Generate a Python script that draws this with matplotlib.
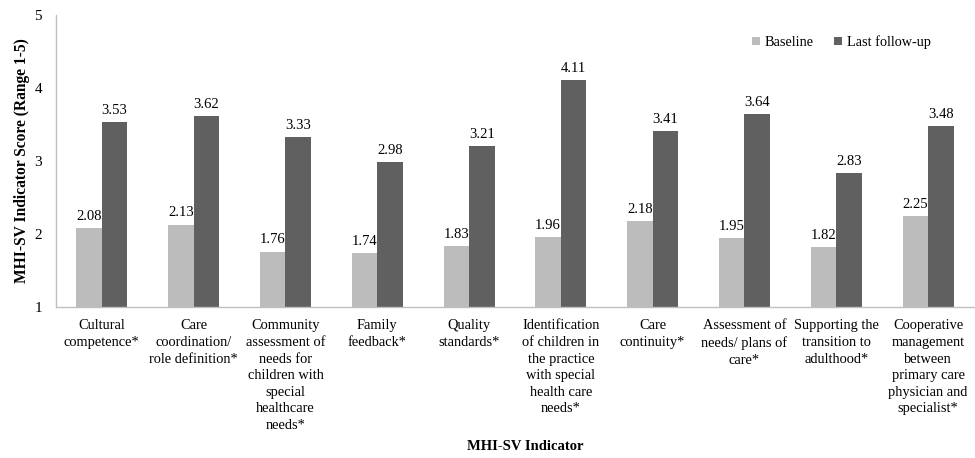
import matplotlib
matplotlib.use("Agg")
import matplotlib.pyplot as plt
import numpy as np

plt.rcParams['font.family'] = ['Liberation Serif', 'DejaVu Serif']

categories = [
    "Cultural\ncompetence*",
    "Care\ncoordination/\nrole definition*",
    "Community\nassessment of\nneeds for\nchildren with\nspecial\nhealthcare\nneeds*",
    "Family\nfeedback*",
    "Quality\nstandards*",
    "Identification\nof children in\nthe practice\nwith special\nhealth care\nneeds*",
    "Care\ncontinuity*",
    "Assessment of\nneeds/ plans of\ncare*",
    "Supporting the\ntransition to\nadulthood*",
    "Cooperative\nmanagement\nbetween\nprimary care\nphysician and\nspecialist*",
]
baseline = [2.08, 2.13, 1.76, 1.74, 1.83, 1.96, 2.18, 1.95, 1.82, 2.25]
last_followup = [3.53, 3.62, 3.33, 2.98, 3.21, 4.11, 3.41, 3.64, 2.83, 3.48]
yticks = [1, 2, 3, 4, 5]

fig = plt.figure(figsize=(9.75, 4.58), dpi=100)
ax = fig.add_axes([0.0574, 0.3297, 0.9415, 0.6376])

x = np.arange(len(categories))
w = 0.278
floor = 1
ax.bar(x - w / 2, np.array(baseline) - floor, w, bottom=floor,
       color="#bcbcbc", label="Baseline")
ax.bar(x + w / 2, np.array(last_followup) - floor, w, bottom=floor,
       color="#606060", label="Last follow-up")

for xi, v in zip(x - w / 2, baseline):
    ax.text(xi, v + 0.07, f"{v:.2f}", ha="center", va="bottom", fontsize=10.5)
for xi, v in zip(x + w / 2, last_followup):
    ax.text(xi, v + 0.07, f"{v:.2f}", ha="center", va="bottom", fontsize=10.5)

ax.set_xlim(-0.5, len(categories) - 0.5)
ax.set_ylim(1, 5)
ax.set_yticks(yticks)
ax.set_xticks(x)
ax.set_xticklabels(categories, fontsize=10.4, linespacing=1.36)
ax.tick_params(axis='both', length=0)
ax.tick_params(axis='x', pad=9)
ax.tick_params(axis='y', pad=10, labelsize=11)

for s in ["top", "right"]:
    ax.spines[s].set_visible(False)
for s in ["left", "bottom"]:
    ax.spines[s].set_color("#bfbfbf")
    ax.spines[s].set_linewidth(1.0)

ax.set_ylabel("MHI-SV Indicator Score (Range 1-5)", fontsize=11.2,
              fontweight="bold", labelpad=3)
fig.text(0.539, 1 - 447 / 458, "MHI-SV Indicator", ha="center", va="center",
         fontsize=10.5, fontweight="bold")

ax.legend(loc="center right", bbox_to_anchor=(0.967, 0.907), frameon=False,
          fontsize=10.3, ncol=2, handlelength=0.55, handleheight=0.55,
          handletextpad=0.35, columnspacing=1.4)

fig.savefig("out.png", dpi=100)
